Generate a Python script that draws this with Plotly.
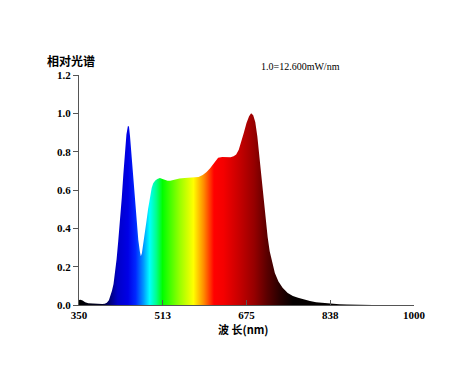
import plotly.graph_objects as go

wavelength = [350, 353, 357, 362, 368, 375, 385, 395, 400, 404, 408, 411, 414, 417, 420, 423, 426, 430, 433, 436, 439, 442, 445, 447, 449, 452, 455, 459, 462, 465, 468, 470, 472, 475, 478, 481, 484, 488, 491, 494, 498, 502, 507, 512, 517, 522, 527, 532, 538, 545, 555, 565, 575, 582, 590, 597, 604, 610, 615, 620, 628, 636, 644, 650, 655, 660, 665, 670, 675, 680, 684, 688, 692, 696, 700, 704, 708, 712, 716, 720, 725, 730, 737, 745, 755, 765, 775, 785, 798, 810, 825, 840, 855, 870, 890, 920, 1000]
intensity = [0.026, 0.028, 0.024, 0.014, 0.009, 0.007, 0.005, 0.005, 0.007, 0.012, 0.025, 0.045, 0.075, 0.11, 0.17, 0.24, 0.33, 0.44, 0.56, 0.68, 0.80, 0.89, 0.935, 0.93, 0.88, 0.77, 0.66, 0.52, 0.42, 0.34, 0.28, 0.255, 0.27, 0.32, 0.38, 0.44, 0.50, 0.565, 0.61, 0.635, 0.65, 0.658, 0.662, 0.658, 0.652, 0.648, 0.648, 0.651, 0.656, 0.660, 0.662, 0.663, 0.664, 0.668, 0.678, 0.692, 0.712, 0.735, 0.755, 0.768, 0.772, 0.770, 0.771, 0.776, 0.785, 0.81, 0.85, 0.90, 0.95, 0.985, 1.0, 0.99, 0.955, 0.88, 0.775, 0.66, 0.545, 0.44, 0.355, 0.28, 0.215, 0.167, 0.123, 0.09, 0.062, 0.047, 0.038, 0.030, 0.021, 0.015, 0.010, 0.007, 0.004, 0.002, 0.001, 0.0005, 0.0]

x_tick_vals = [350, 512.5, 675, 837.5, 1000]
x_tick_text = ["350", "513", "675", "838", "1000"]
y_tick_vals = [0, 0.2, 0.4, 0.6, 0.8, 1.0, 1.2]
y_tick_text = ["0.0", "0.2", "0.4", "0.6", "0.8", "1.0", "1.2"]

# spectral colour stops (wavelength nm, colour)
color_nm = [350, 395, 410, 425, 445, 460, 475, 487, 500, 512, 545, 572, 592, 612, 630, 660, 690, 715, 740, 765, 1000]
color_rgb = ["rgb(0,0,0)", "rgb(0,0,40)", "rgb(0,0,120)", "rgb(0,0,200)", "rgb(0,0,230)", "rgb(0,40,255)",
             "rgb(0,150,255)", "rgb(0,255,255)", "rgb(0,255,140)", "rgb(0,255,0)", "rgb(150,255,0)",
             "rgb(255,255,0)", "rgb(255,140,0)", "rgb(255,0,0)", "rgb(245,0,0)", "rgb(200,0,0)",
             "rgb(150,0,0)", "rgb(90,0,0)", "rgb(40,0,0)", "rgb(5,0,0)", "rgb(0,0,0)"]

lo, hi = 350, 1000
colorscale = [[(n - lo) / (hi - lo), c] for n, c in zip(color_nm, color_rgb)]

# page has an 8px body margin; figure sized to fit the window
OFF = 8
W, H = 475 - OFF, 368 - OFF
l, t = 79 - OFF, 75 - OFF
r = W - (414 - OFF)
b = H - (305 - OFF)
pw, ph = W - l - r, H - t - b

def paper_x(px):
    return (px - OFF - l) / pw

def paper_y(py):
    return (H - b - (py - OFF)) / ph

fig = go.Figure()
fig.add_trace(go.Scatter(
    x=wavelength, y=intensity, mode="lines",
    line=dict(width=0, color="black"),
    fill="tozeroy",
    fillgradient=dict(type="horizontal", colorscale=colorscale, start=lo, stop=hi),
    hoverinfo="skip", showlegend=False,
))

tick_font = dict(family="Liberation Serif, DejaVu Serif, serif", size=11, color="black", weight="bold")

fig.update_layout(
    width=W, height=H,
    margin=dict(l=l, r=r, t=t, b=b),
    paper_bgcolor="white", plot_bgcolor="white",
    xaxis=dict(range=[lo, hi], tickvals=x_tick_vals, ticktext=x_tick_text,
               ticks="inside", ticklen=5, tickcolor="#555", tickwidth=1,
               showline=True, linecolor="#555", linewidth=1,
               showgrid=False, zeroline=False, tickfont=tick_font),
    yaxis=dict(range=[0, 1.2], tickvals=y_tick_vals, ticktext=y_tick_text,
               ticks="outside", ticklen=5, tickcolor="#555", tickwidth=1,
               showline=True, linecolor="#555", linewidth=1,
               showgrid=False, zeroline=False, tickfont=tick_font),
    annotations=[
        dict(text="相对光谱", x=paper_x(71), y=paper_y(61), xref="paper", yref="paper", showarrow=False,
             xanchor="center", yanchor="middle",
             font=dict(family="Noto Sans CJK SC", size=12, color="black", weight="bold")),
        dict(text="1.0=12.600mW/nm", x=paper_x(300), y=paper_y(66), xref="paper", yref="paper",
             showarrow=False, xanchor="center", yanchor="middle",
             font=dict(family="Liberation Serif, serif", size=10, color="black")),
        dict(text="波 长(nm)", x=paper_x(243), y=paper_y(329), xref="paper", yref="paper",
             showarrow=False, xanchor="center", yanchor="middle",
             font=dict(family="Noto Sans CJK SC", size=11, color="black", weight="bold")),
    ],
)

fig.write_html("out.html")
